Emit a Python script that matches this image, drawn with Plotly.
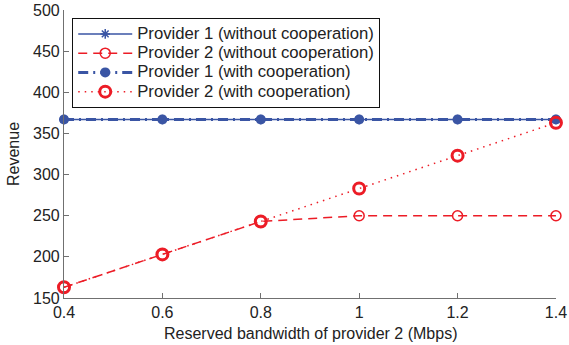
import plotly.graph_objects as go

x_vals = [0.4, 0.6, 0.8, 1.0, 1.2, 1.4]
p1_without = [367, 367, 367, 367, 367, 367]
p2_without = [163, 203, 243, 250, 250, 250]
p1_with = [367, 367, 367, 367, 367, 367]
p2_with = [163, 203, 243, 283, 323, 363]
x_ticks = [0.4, 0.6, 0.8, 1.0, 1.2, 1.4]
x_tick_text = ["0.4", "0.6", "0.8", "1", "1.2", "1.4"]
y_ticks = [150, 200, 250, 300, 350, 400, 450, 500]
series_names = [
    "Provider 1 (without cooperation)",
    "Provider 2 (without cooperation)",
    "Provider 1 (with cooperation)",
    "Provider 2 (with cooperation)",
]
x_title = "Reserved bandwidth of provider 2 (Mbps)"
y_title = "Revenue"

BLUE = "#3A55A4"
RED = "#EC1C26"
FONT = "Liberation Sans, Arial, sans-serif"


def leg(name):
    return '<span style="font-size:16.7px">' + name + "</span>"


fig = go.Figure()
fig.add_trace(go.Scatter(
    x=x_vals, y=p1_without, name=leg(series_names[0]),
    mode="lines+markers", cliponaxis=False,
    line=dict(color=BLUE, width=1.5, dash="solid"),
    marker=dict(symbol="asterisk-open", size=8, color=BLUE, line=dict(color=BLUE, width=1.5)),
))
fig.add_trace(go.Scatter(
    x=x_vals, y=p2_without, name=leg(series_names[1]),
    mode="lines+markers", cliponaxis=False,
    line=dict(color=RED, width=1.5, dash="9px,6px"),
    marker=dict(symbol="circle-open", size=10, color=RED, line=dict(color=RED, width=1.5)),
))
fig.add_trace(go.Scatter(
    x=x_vals, y=p1_with, name=leg(series_names[2]),
    mode="lines+markers", cliponaxis=False,
    line=dict(color=BLUE, width=3, dash="10px,5px,2px,5px"),
    marker=dict(symbol="circle", size=10, color=BLUE),
))
fig.add_trace(go.Scatter(
    x=x_vals, y=p2_with, name=leg(series_names[3]),
    mode="lines+markers", cliponaxis=False,
    line=dict(color=RED, width=1.5, dash="1.5px,5px"),
    marker=dict(symbol="circle-open", size=11, color=RED, line=dict(color=RED, width=3)),
))

axis_common = dict(
    showline=True, linecolor="#707070", linewidth=1.2,
    ticks="inside", tickcolor="#707070", ticklen=5,
    showgrid=False, zeroline=False, mirror=False, automargin=False,
    ticklabeloverflow="allow",
    tickfont=dict(family=FONT, size=16, color="#222222"),
)

fig.update_layout(
    width=569, height=345,
    margin=dict(l=64, r=13, t=10, b=47),
    paper_bgcolor="white", plot_bgcolor="white",
    font=dict(family=FONT, size=16, color="#222222"),
    xaxis=dict(range=[0.4, 1.4001], tickvals=x_ticks, ticktext=x_tick_text, **axis_common),
    yaxis=dict(range=[150, 500.01], tickvals=y_ticks, **axis_common),
    legend=dict(x=0.0163, y=0.972, xanchor="left", yanchor="top",
                bgcolor="white", bordercolor="#111111", borderwidth=1.2,
                font=dict(size=12.5, color="#222222"), tracegroupgap=0,
                itemwidth=54),
    showlegend=True,
    annotations=[
        dict(text=x_title, xref="paper", yref="paper", x=0.5, y=0,
             xanchor="center", yanchor="middle", yshift=-35, showarrow=False,
             font=dict(family=FONT, size=16, color="#222222")),
        dict(text=y_title, xref="paper", yref="paper", x=0, y=0.5,
             xanchor="center", yanchor="middle", xshift=-51, textangle=-90,
             showarrow=False, font=dict(family=FONT, size=16, color="#222222")),
    ],
)

# remove the browser's default 8px page margin so the figure fills the window
fig.write_html("out.html", config={"displayModeBar": False},
               post_script="document.body.style.margin='0';")
